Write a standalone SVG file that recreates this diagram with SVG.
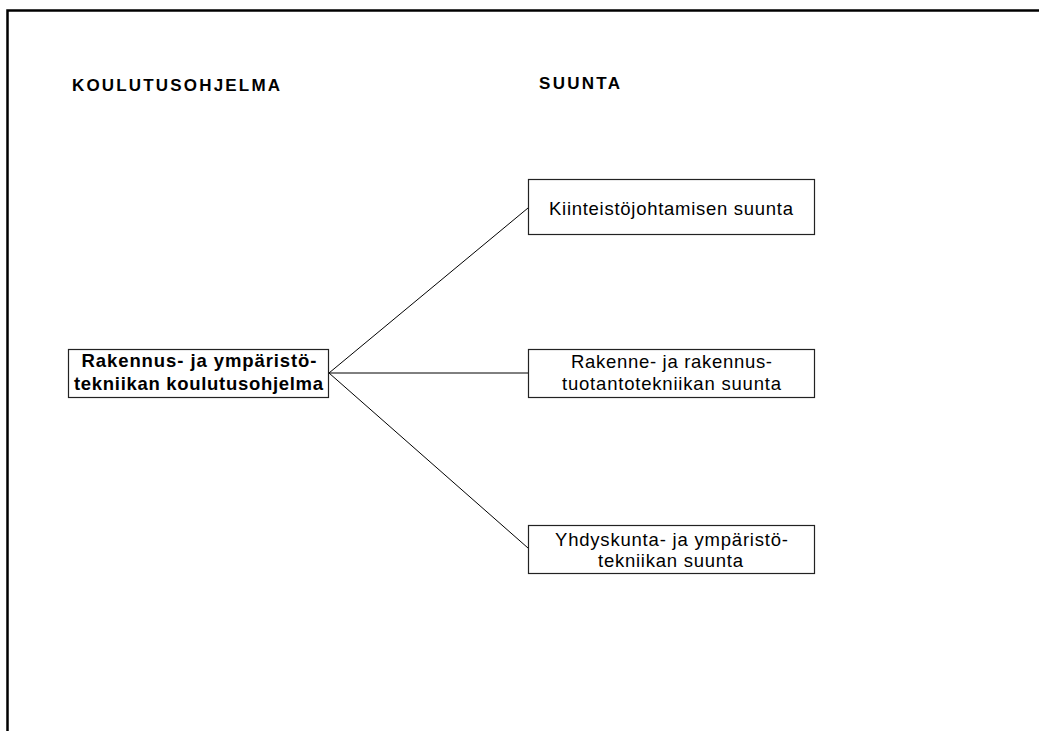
<svg xmlns="http://www.w3.org/2000/svg" width="1039" height="731" viewBox="0 0 1039 731">
<style>
.box{fill:#fff;stroke:#222;stroke-width:1.2}
.t{font-family:"Liberation Sans",Arial,sans-serif;font-size:18.5px;fill:#000;text-anchor:middle}
.b{font-weight:bold}
.h{font-family:"Liberation Sans",Arial,sans-serif;font-size:17px;font-weight:bold;fill:#000}
.c{stroke:#000;stroke-width:1;fill:none}
</style>
<rect width="1039" height="731" fill="#fff"/>
<g id="frame">
<path d="M7.5 731 V10.5 H1039" fill="none" stroke="#000" stroke-width="2.5"/>
</g>
<g id="headings">
<text class="h" x="72" y="91" textLength="208" lengthAdjust="spacing">KOULUTUSOHJELMA</text>
<text class="h" x="539" y="89" textLength="81" lengthAdjust="spacing">SUUNTA</text>
</g>
<g id="connectors">
<line class="c" x1="329" y1="373" x2="528" y2="208"/>
<line class="c" x1="329" y1="373" x2="528" y2="373"/>
<line class="c" x1="329" y1="373" x2="528" y2="548"/>
</g>
<g id="node-main">
<rect class="box" x="68.5" y="349.5" width="260" height="48"/>
<text class="t b" x="199" y="367" textLength="235" lengthAdjust="spacing">Rakennus- ja ympäristö-</text>
<text class="t b" x="198.5" y="390" textLength="249" lengthAdjust="spacing">tekniikan koulutusohjelma</text>
</g>
<g id="node-kiinteisto">
<rect class="box" x="528.5" y="179.5" width="286" height="55"/>
<text class="t" x="671" y="215" textLength="244" lengthAdjust="spacing">Kiinteistöjohtamisen suunta</text>
</g>
<g id="node-rakenne">
<rect class="box" x="528.5" y="349.5" width="286" height="48"/>
<text class="t" x="671.5" y="368" textLength="201" lengthAdjust="spacing">Rakenne- ja rakennus-</text>
<text class="t" x="671.5" y="390" textLength="219" lengthAdjust="spacing">tuotantotekniikan suunta</text>
</g>
<g id="node-yhdyskunta">
<rect class="box" x="528.5" y="525.5" width="286" height="48"/>
<text class="t" x="671.5" y="546" textLength="233" lengthAdjust="spacing">Yhdyskunta- ja ympäristö-</text>
<text class="t" x="670.5" y="567" textLength="145" lengthAdjust="spacing">tekniikan suunta</text>
</g>
</svg>
